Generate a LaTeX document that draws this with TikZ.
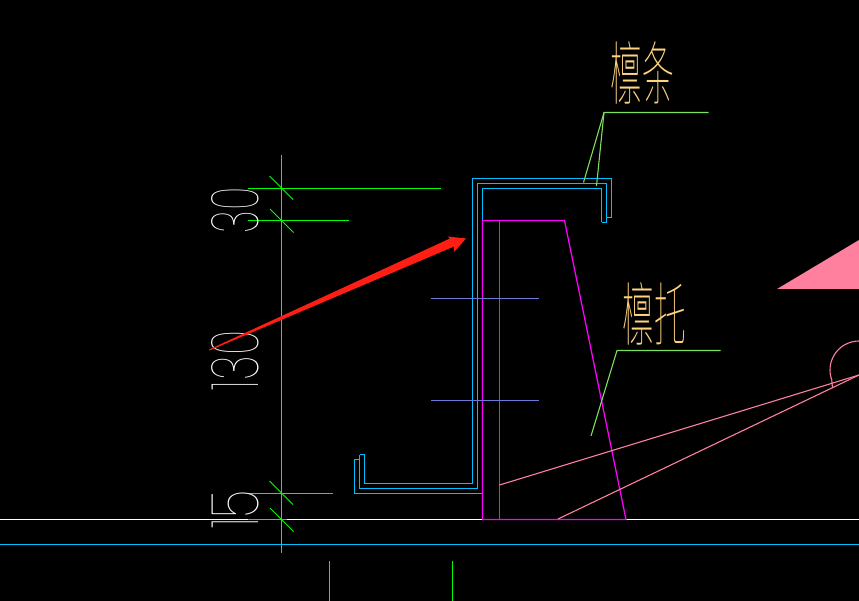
\documentclass[tikz,border=0pt]{standalone}
\usepackage{fontspec}
\newfontfamily\dimfont{Poppins Thin}
\newfontfamily\cjkfont{Noto Sans CJK SC Thin}
\definecolor{cadblue}{RGB}{0,191,255}
\definecolor{cadgreen}{RGB}{0,255,0}
\definecolor{cadleader}{RGB}{127,223,95}
\definecolor{cadpink}{RGB}{255,127,159}
\definecolor{cadpurple}{RGB}{110,120,215}
\definecolor{cadmagenta}{RGB}{255,0,255}
\definecolor{cadyellow}{RGB}{255,212,127}
\definecolor{cadred}{RGB}{255,30,20}
\tikzset{
	dimline/.style={cadgreen,line width=1pt},
	channel/.style={cadblue,line width=1.25pt},
	bracket/.style={cadmagenta,line width=1.25pt},
	bolt/.style={cadpurple,line width=1.1pt},
	leader/.style={cadleader,line width=1.1pt},
	slope/.style={cadpink,line width=1.1pt},
	dimtext/.style={white,rotate=90,inner sep=0pt,font=\dimfont\fontsize{66}{66}\selectfont},
	cjktext/.style={cadyellow,inner sep=0pt,font=\cjkfont\fontsize{66}{66}\selectfont,xscale=0.48,yscale=1.05},
}
\begin{document}
\begin{tikzpicture}[x=1pt,y=-1pt]
    \fill[black] (0,0) rectangle (859,601);
    \clip (0,0) rectangle (859,601);
    % base lines
    \draw[white,line width=1.1pt] (0,519.5) -- (859,519.5);
    \draw[cadblue,line width=1.1pt] (0,544.5) -- (859,544.5);
    \draw[dimline] (329.5,561) -- (329.5,601);
    \draw[dimline] (452.5,561) -- (452.5,601);
    % dimension chain
    \draw[dimline] (281.5,155) -- (281.5,553);
    \draw[dimline] (248,188.5) -- (441,188.5);
    \draw[dimline] (248,220.5) -- (349,220.5);
    \draw[dimline] (248,493.5) -- (333,493.5);
    \draw[dimline] (248,519.5) -- (287,519.5);
    \foreach \tickx/\ticky in {269.5/176,270/209,269.5/481,270/508}
        \draw[dimline] (\tickx,\ticky) -- ++(23.5,23.5);
    \node[dimtext,xscale=0.6] (dimtop) at (235,210) {30};
    \node[dimtext,xscale=0.65] (dimmid) at (235,360.5) {130};
    \node[dimtext,xscale=0.72] (dimlow) at (235,509.5) {15};
    % purlin
    \draw[channel] (606.5,217.5) -- (611.5,217.5) -- (611.5,178.5) -- (472.5,178.5) -- (472.5,483.5) -- (364.5,483.5) -- (364.5,454.5) -- (359.5,454.5);
    \draw[channel] (601.5,222.5) -- (606.5,222.5) -- (606.5,183.5) -- (477.5,183.5) -- (477.5,488.5) -- (359.5,488.5) -- (359.5,454.5);
    \draw[channel] (601.5,222.5) -- (601.5,188.5) -- (482.5,188.5) -- (482.5,493.5) -- (354.5,493.5) -- (354.5,459.5) -- (359.5,459.5);
    % bracket
    \draw[bracket] (482.5,519.5) -- (482.5,220.5) -- (564.5,220.5) -- (626,519.5) -- cycle;
    \draw[bracket] (499.5,220.5) -- (499.5,519.5);
    \draw[bolt] (431,298.5) -- (539,298.5);
    \draw[bolt] (431,400.5) -- (539,400.5);
    % roof
    \fill[cadpink] (777,289) -- (859,240) -- (859,289) -- cycle;
    \draw[slope] (499.5,485) -- (859,375);
    \draw[slope] (558,519) -- (859,375);
    \draw[slope] (859,341) arc[start angle=-90,end angle=-200,radius=29] -- (832.5,388);
    % labels
    \node[cjktext] (purlin) at (642.5,72.5) {檩条};
    \node[cjktext] (support) at (654.5,314) {檩托};
    \coordinate (purlinbend) at (604,112.5);
    \coordinate (supportbend) at (617,350.5);
    \draw[leader] (708.5,112.5) -- (purlinbend) -- (583.5,182.5);
    \draw[leader] (purlinbend) -- (596.5,186);
    \draw[leader] (720.5,350.5) -- (supportbend) -- (591,436);
    % red arrow
    \fill[cadred] (209,349.5) -- (450,238.5) -- (447.5,236.5) -- (466,238.5) -- (454,252) -- (454,246.5) -- (209.5,350.5) -- cycle;
\end{tikzpicture}
\end{document}
